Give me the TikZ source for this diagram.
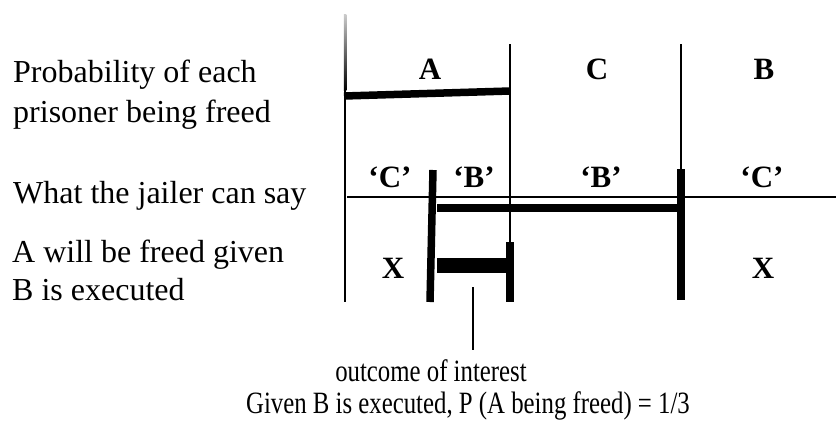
\documentclass[tikz,border=0pt]{standalone}
\usepackage{fontspec}
\setmainfont{Liberation Serif}
\newfontfamily\narrowserif[FakeStretch=0.8]{Liberation Serif}
\begin{document}
\begin{tikzpicture}[x=1pt,y=-1pt, font=\fontsize{32}{38}\selectfont]
  \tikzset{
    rule/.style={draw=black, line width=2.5pt},
    bar/.style={draw=black, line width=7.5pt},
    fatbar/.style={draw=black, line width=15pt},
    rowlabel/.style={anchor=base west, inner sep=0pt},
    cell/.style={anchor=base, inner sep=0pt, font=\fontsize{31}{36}\selectfont\bfseries},
    note/.style={anchor=base, inner sep=0pt, font=\fontsize{31}{36}\narrowserif}
  }
  \useasboundingbox (0,0) rectangle (836,424);

  % Row labels
  \node[rowlabel] (prob1) at (13,82) {Probability of each};
  \node[rowlabel] (prob2) at (13,122) {prisoner being freed};
  \node[rowlabel] (say) at (13,203) {What the jailer can say};
  \node[rowlabel] (freed1) at (12,262) {A will be freed given};
  \node[rowlabel] (freed2) at (12,300) {B is executed};

  % Grid lines
  \shade[top color=black!20, bottom color=black] (343.75,14) rectangle (346.25,90);
  \draw[rule] (345,90) -- (345,302);
  \draw[rule] (510,44) -- (510,242);
  \draw[rule] (681,44) -- (681,169);
  \draw[rule] (347,197) -- (836,197);

  % Prisoners
  \node[cell] (pa) at (430,79) {A};
  \node[cell] (pc) at (597,79) {C};
  \node[cell] (pb) at (764,79) {B};
  \draw[bar] (344,96) -- (510,91);

  % Jailer answers
  \node[cell] (sc1) at (390,187) {‘C’};
  \node[cell] (sb1) at (474,187) {‘B’};
  \node[cell] (sb2) at (601,187) {‘B’};
  \node[cell] (sc2) at (762,187) {‘C’};
  \draw[bar] (433,170) -- (430,302);
  \draw[bar] (681,169) -- (681,300);
  \draw[bar] (510,242) -- (510,302);
  \draw[bar] (437,208) -- (681,208);
  \draw[fatbar] (437,265) -- (510,265);

  % Outcomes
  \node[cell] (xa) at (393,278) {X};
  \node[cell] (xb) at (763,278) {X};

  % Outcome of interest
  \coordinate (tip) at (473,287);
  \coordinate (foot) at (473,350);
  \draw[rule] (tip) -- (foot);
  \node[note] (interest) at (431,381) {outcome of interest};
  \node[note] (given) at (468,413) {Given B is executed, P (A being freed) = 1/3};
\end{tikzpicture}
\end{document}
